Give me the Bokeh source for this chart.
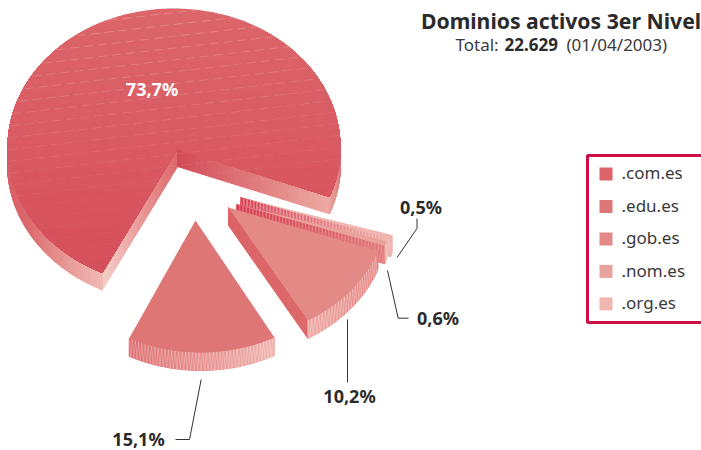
import math
from bokeh.plotting import figure
from bokeh.models import Range1d
from bokeh.core.properties import value
from bokeh.embed import file_html
from bokeh.resources import INLINE

# ---------- data ----------
categories = [".com.es", ".edu.es", ".gob.es", ".nom.es", ".org.es"]
shares = [73.7, 15.1, 10.2, 0.6, 0.5]
title_text = "Dominios activos 3er Nivel"
total_text = "22.629"
date_text = "(01/04/2003)"
legend_colors = ["#dc6468", "#de7676", "#e38a86", "#e9a29c", "#efb7b0"]

# ---------- layout ----------
W, H = 701, 450
FONT = "Noto Sans"
INK = "#2b2b2b"


def hex2rgb(c):
    return [int(c[i:i + 2], 16) for i in (1, 3, 5)]


def mix(a, b, t):
    a, b = hex2rgb(a), hex2rgb(b)
    return "#%02x%02x%02x" % tuple(round(a[i] + (b[i] - a[i]) * t) for i in range(3))


def sweep(v, stretch=1.0):
    return v * 3.6 * stretch


def arc(s, t):
    r = math.radians(t)
    return (s["cx"] + s["rx"] * math.cos(r), s["cy"] + s["ry"] * math.sin(r))


def top_poly(s, n=120):
    pts = [s["apex"]]
    for i in range(n + 1):
        pts.append(arc(s, s["t0"] + (s["t1"] - s["t0"]) * i / n))
    return pts


def rim_quads(s, a, b, ca, cb, n=40):
    xs, ys, cs = [], [], []
    d = s["d"]
    for i in range(n):
        t0 = a + (b - a) * i / n
        t1 = a + (b - a) * (i + 1) / n
        p0, p1 = arc(s, t0), arc(s, t1)
        xs.append([p0[0], p1[0], p1[0], p0[0]])
        ys.append([p0[1], p1[1], p1[1] + d, p0[1] + d])
        cs.append(mix(ca, cb, (i + .5) / n))
    return xs, ys, cs


def face_quads(s, end, ca, cb, n=40):
    xs, ys, cs = [], [], []
    d = s["d"]
    ax, ay = s["apex"]
    for i in range(n):
        f0, f1 = i / n, (i + 1) / n
        x0, y0 = ax + (end[0] - ax) * f0, ay + (end[1] - ay) * f0
        x1, y1 = ax + (end[0] - ax) * f1, ay + (end[1] - ay) * f1
        xs.append([x0, x1, x1, x0])
        ys.append([y0, y1, y1 + d, y0 + d])
        cs.append(mix(ca, cb, (i + .5) / n))
    return xs, ys, cs


def zig_rim(s, a, b, step):
    xs, ys = [], []
    n = max(2, int(abs(b - a) / step))
    d = s["d"]
    for i in range(n):
        t = a + (b - a) * i / n
        x, y = arc(s, t)
        xs.append(x)
        ys.append(y + (d if i % 2 else 0))
    return xs, ys


def zig_face(s, end, step):
    ax, ay = s["apex"]
    L = math.hypot(end[0] - ax, end[1] - ay)
    n = int(L / step)
    xs, ys = [], []
    for i in range(n + 1):
        f = i / n
        xs.append(ax + (end[0] - ax) * f)
        ys.append(ay + (end[1] - ay) * f + (s["d"] if i % 2 else 0))
    return xs, ys


def clip_below(poly, y0):
    out = []
    for i in range(len(poly)):
        p, q = poly[i], poly[(i + 1) % len(poly)]
        pin, qin = p[1] >= y0, q[1] >= y0
        if pin:
            out.append(p)
        if pin != qin:
            f = (y0 - p[1]) / (q[1] - p[1])
            out.append((p[0] + (q[0] - p[0]) * f, y0))
    return out


def inside(poly, x, y):
    c = False
    for i in range(len(poly)):
        (x0, y0), (x1, y1) = poly[i], poly[(i + 1) % len(poly)]
        if (y0 > y) != (y1 > y) and x < x0 + (y - y0) * (x1 - x0) / (y1 - y0):
            c = not c
    return c


p = figure(width=W, height=H, output_backend="svg", toolbar_location=None,
           x_range=Range1d(0, W), y_range=Range1d(H, 0),
           min_border=0, outline_line_color=None)
p.axis.visible = False
p.grid.visible = False
p.background_fill_color = "white"
p.border_fill_color = "white"


def draw_quads(q):
    p.patches(q[0], q[1], fill_color=q[2], line_color=q[2], line_width=1.0)


# ---------- .com.es : the big slice ----------
com = dict(cx=173.5, cy=147, rx=166.5, ry=139, apex=(177, 149), d=17)
com["t0"] = 115.5
com["t1"] = com["t0"] + sweep(shares[0])
draw_quads(face_quads(com, arc(com, com["t0"]), "#dd666a", "#f4cfc8", 60))
draw_quads(face_quads(com, arc(com, com["t1"]), "#d24a57", "#eeaaa3", 60))
draw_quads(rim_quads(com, 180, 150, "#d75a62", "#dc6a6d", 60))
draw_quads(rim_quads(com, 150, com["t0"], "#dc6a6d", "#efb9b2", 60))
draw_quads(rim_quads(com, 0, com["t1"] - 360, "#dc6468", "#e9a19b", 30))

poly = top_poly(com, 240)
ybands = 46
top_y, bot_y = 8, 280
for i in range(ybands):
    y0 = top_y + (bot_y - top_y) * i / ybands
    c = mix("#dc666a", "#d64e5b", i / (ybands - 1))
    band = clip_below(poly, y0)
    if band:
        p.patch([b[0] for b in band], [b[1] for b in band], fill_color=c, line_color=None)

# pale dashed texture of the big slice
lx, ly, la = [], [], []
y_ref = 12.0
while y_ref < 300:
    run = []
    x = 8
    while x < 340:
        y = y_ref - 0.115 * (x - 175)
        ok = inside(poly, x, y)
        if ok:
            run.append((x, y))
        x += 2
    if len(run) > 4:
        lx.append([r[0] for r in run])
        ly.append([r[1] for r in run])
        la.append(max(0.06, 0.36 - 0.0015 * y_ref))
    y_ref += 11.8
p.multi_line(lx, ly, line_color="#fbe3df", line_alpha=la, line_width=0.8, line_dash="9 5")

# ---------- .org.es ----------
org = dict(cx=233, cy=198, rx=165, ry=132, apex=(240, 197), d=18)
org["t0"] = 16.0
org["t1"] = org["t0"] + sweep(shares[4])
end = arc(org, org["t1"])
draw_quads(face_quads(org, end, "#d63a50", "#f0b5ae"))
zx, zy = zig_face(org, end, 1.7)
p.line(zx, zy, line_color="#f6c8c2", line_alpha=0.6, line_width=0.8)
draw_quads(rim_quads(org, org["t0"], org["t1"], "#f0bbb4", "#efb7b0", 4))
p.patch(*zip(*top_poly(org, 8)), fill_color=legend_colors[4], line_color=None)

# ---------- .nom.es ----------
nom = dict(cx=229, cy=205, rx=163, ry=132, apex=(236, 204), d=18)
nom["t0"] = 15.6
nom["t1"] = nom["t0"] + sweep(shares[3])
end = arc(nom, nom["t1"])
draw_quads(face_quads(nom, end, "#d63a50", "#e07a7c"))
zx, zy = zig_face(nom, end, 1.7)
p.line(zx, zy, line_color="#f1a8a4", line_alpha=0.5, line_width=0.8)
draw_quads(rim_quads(nom, nom["t0"], nom["t1"], "#e9a29c", "#e58c8a", 4))
zx, zy = zig_rim(nom, nom["t0"], nom["t1"], 0.4)
p.line(zx, zy, line_color="#ffffff", line_alpha=0.35, line_width=0.7)
p.patch(*zip(*top_poly(nom, 8)), fill_color=legend_colors[3], line_color=None)

# ---------- .gob.es ----------
gob = dict(cx=222, cy=209, rx=164, ry=130, apex=(228, 207), d=18)
gob["t0"] = 18.6
gob["t1"] = gob["t0"] + sweep(shares[2], 1.09)
end = arc(gob, gob["t1"])
draw_quads(face_quads(gob, end, "#dc6468", "#dd686a", 4))
draw_quads(rim_quads(gob, gob["t1"], gob["t0"], "#eeaaa5", "#e27674"))
zx, zy = zig_rim(gob, gob["t1"], gob["t0"], 0.75)
p.line(zx, zy, line_color="#ffffff", line_alpha=0.3, line_width=0.8)
p.patch(*zip(*top_poly(gob)), fill_color=legend_colors[2], line_color=None)

# ---------- .edu.es ----------
edu = dict(cx=200.4, cy=220, rx=159, ry=132, apex=(195, 220), d=18)
edu["t1"] = 116.8
edu["t0"] = edu["t1"] - sweep(shares[1])
draw_quads(rim_quads(edu, edu["t1"], edu["t0"], "#df6e71", "#f0b4ae"))
zx, zy = zig_rim(edu, edu["t1"], edu["t0"], 0.62)
p.line(zx, zy, line_color="#ffffff", line_alpha=0.28, line_width=0.8)
p.patch(*zip(*top_poly(edu)), fill_color=legend_colors[1], line_color=None)


# ---------- labels and leaders ----------
def label(x, y, txt, size, style="normal", color=INK, align="left"):
    p.text([x], [y], text=[txt], text_font=value(FONT), text_font_size=f"{size}px",
           text_font_style=style, text_color=color, text_align=align, text_baseline="middle")


def pct(v):
    return f"{v:.1f}%".replace(".", ",")


leaders = [([416.5, 416.5, 396.5], [218, 228, 257]),
           ([387, 397.7, 408], [270, 317.7, 317.7]),
           ([347, 347], [319, 382]),
           ([200.7, 189, 175], [379, 439, 439])]
for xs, ys in leaders:
    p.line(xs, ys, line_color="#333333", line_width=1)

label(151.5, 88, pct(shares[0]), 18, "bold", "#ffffff", "center")
label(420.5, 206, pct(shares[4]), 18, "bold", INK, "center")
label(437.5, 317, pct(shares[3]), 18, "bold", INK, "center")
label(349, 395, pct(shares[2]), 18, "bold", INK, "center")
label(138, 438, pct(shares[1]), 18, "bold", INK, "center")

label(560.5, 20, title_text, 21.2, "bold", INK, "center")
label(455, 43.5, "Total:", 17, "normal", "#3a3a3a")
label(504, 43.5, total_text, 17, "bold", INK)
label(566, 43.5, date_text, 17, "normal", "#3a3a3a")

# ---------- legend ----------
p.patch([587, 704, 704, 587], [155, 155, 322, 322], fill_color=None,
        line_color="#cc0f45", line_width=3)
for i, (cat, col) in enumerate(zip(categories, legend_colors)):
    yc = 173.4 + i * 32.5
    p.rect([605.5], [yc], width=13, height=13, fill_color=col, line_color=None)
    label(621, yc - 1, cat, 17, "normal", "#3a3a3a")

open("out.html", "w").write(file_html(p, INLINE))
